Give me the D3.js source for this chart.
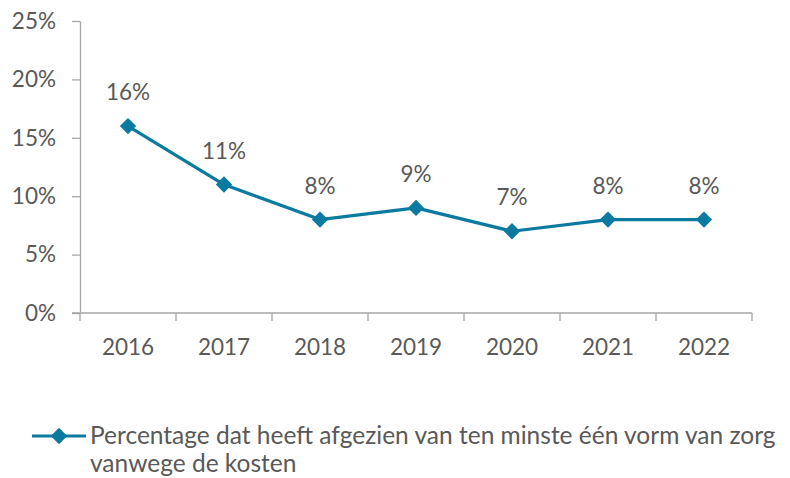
<!DOCTYPE html>
<html>
<head>
<meta charset="utf-8">
<script src="https://cdn.jsdelivr.net/npm/d3@7"></script>
<style>
  body { margin: 0; background: #fff; }
  svg text { font-family: Lato, "Open Sans", sans-serif; fill: #595959; }
</style>
</head>
<body>
<svg width="790" height="478"></svg>
<script>
var years = ["2016", "2017", "2018", "2019", "2020", "2021", "2022"];
var values = [16, 11, 8, 9, 7, 8, 8];
var yTicks = [0, 5, 10, 15, 20, 25];
var seriesName = "Percentage dat heeft afgezien van ten minste één vorm van zorg";
var seriesName2 = "vanwege de kosten";

var color = "#0a7aa0";
var fontSize = "22.5px";
var legendSize = "24.5px";
var svg = d3.select("svg");

var x = d3.scaleBand().domain(years).range([80, 752]);
var y = d3.scaleLinear().domain([0, 25]).range([313, 21]);

// y axis
var yAxis = svg.append("g").attr("transform", "translate(80,0)")
  .call(d3.axisLeft(y).tickValues(yTicks).tickSize(8).tickSizeOuter(0)
    .tickFormat(function (d) { return d + "%"; }));
yAxis.selectAll("path, line").attr("stroke", "#a6a6a6").attr("stroke-width", 1.3);
yAxis.selectAll("text").attr("x", -24).style("font-size", fontSize).style("font-family", null).attr("fill", null);

// x axis
var xAxis = svg.append("g").attr("transform", "translate(0,313)")
  .call(d3.axisBottom(x).tickSize(0).tickSizeOuter(0));
xAxis.select("path").attr("d", "M72,0H752").attr("stroke", "#a6a6a6").attr("stroke-width", 1.3);
xAxis.selectAll(".tick line").remove();
xAxis.selectAll("text").attr("y", 26).attr("dy", "0.71em").style("font-size", fontSize).style("font-family", null).attr("fill", null);

// category boundary ticks
svg.append("g").selectAll("line")
  .data(years.concat(["end"]))
  .enter().append("line")
  .attr("x1", function (d, i) { return 80 + i * x.bandwidth(); })
  .attr("x2", function (d, i) { return 80 + i * x.bandwidth(); })
  .attr("y1", 313).attr("y2", 321)
  .attr("stroke", "#a6a6a6").attr("stroke-width", 1.3);

var cx = function (d, i) { return x(years[i]) + x.bandwidth() / 2; };

var line = d3.line()
  .x(function (d, i) { return cx(d, i); })
  .y(function (d) { return y(d); });

svg.append("path").datum(values)
  .attr("d", line)
  .attr("fill", "none")
  .attr("stroke", color)
  .attr("stroke-width", 3.2)
  .attr("stroke-linejoin", "round");

var diamond = d3.symbol().type(d3.symbolDiamond2).size(170);

svg.append("g").selectAll("path")
  .data(values).enter().append("path")
  .attr("d", diamond)
  .attr("transform", function (d, i) { return "translate(" + cx(d, i) + "," + y(d) + ")"; })
  .attr("fill", color);

svg.append("g").selectAll("text")
  .data(values).enter().append("text")
  .attr("x", function (d, i) { return cx(d, i); })
  .attr("y", function (d) { return y(d) - 26; })
  .attr("text-anchor", "middle")
  .style("font-size", fontSize)
  .text(function (d) { return d + "%"; });

// legend
var legend = svg.append("g");
legend.append("line")
  .attr("x1", 32).attr("x2", 86).attr("y1", 436).attr("y2", 436)
  .attr("stroke", color).attr("stroke-width", 3.2);
legend.append("path")
  .attr("d", diamond)
  .attr("transform", "translate(59,436)")
  .attr("fill", color);
legend.append("text").attr("x", 90).attr("y", 444).style("font-size", legendSize).text(seriesName);
legend.append("text").attr("x", 90).attr("y", 472).style("font-size", legendSize).text(seriesName2);
</script>
</body>
</html>
